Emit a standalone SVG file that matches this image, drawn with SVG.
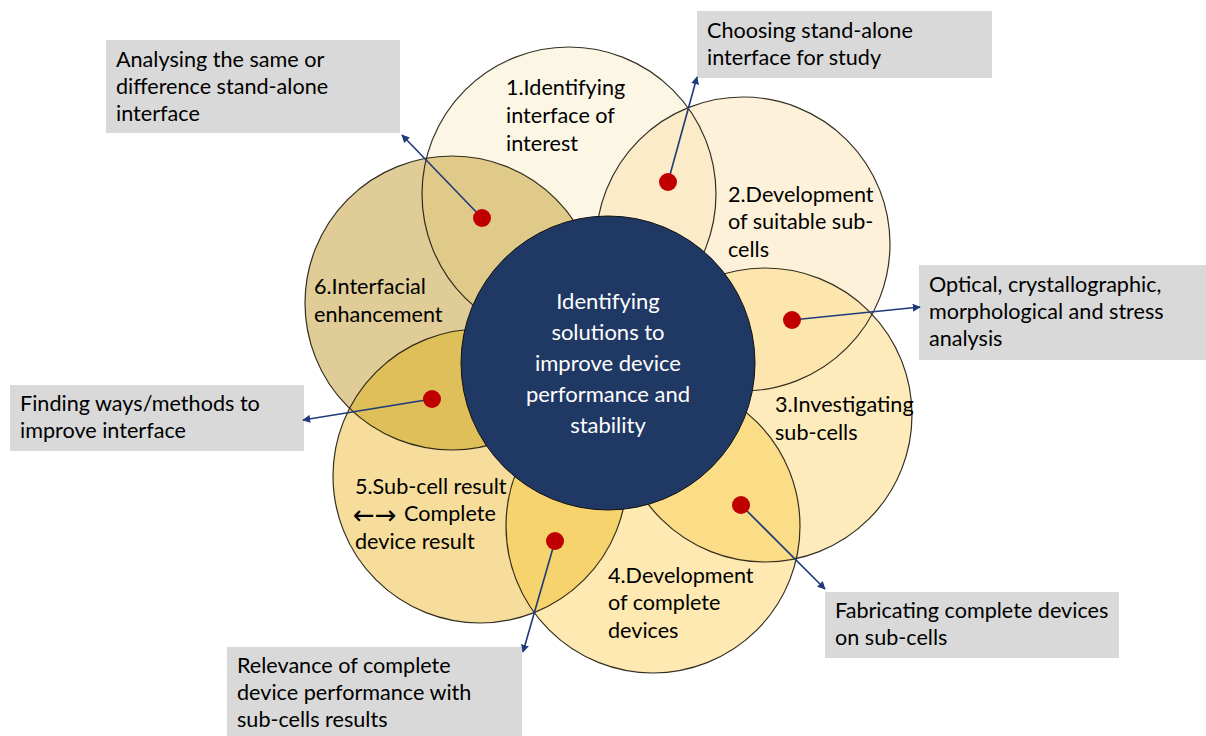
<svg xmlns="http://www.w3.org/2000/svg" width="1206" height="736" viewBox="0 0 1206 736">
  <style>
    .lbl { font-family: Lato, "Open Sans", "Liberation Sans", sans-serif; font-size: 21.6px; fill: #000; }
    .hub { font-family: Lato, "Open Sans", "Liberation Sans", sans-serif; font-size: 22px; fill: #fff; text-anchor: middle; }
    .arr { font-family: "DejaVu Sans", sans-serif; font-size: 26px; fill: #000; }
    .box { fill: #d9d9d9; }
    .ring { fill: none; stroke: #1e1a10; stroke-width: 1.2; stroke-opacity: 0.9; }
    .dot { fill: #c00000; }
    .link { stroke: #1f3a78; stroke-width: 1.6; fill: none; marker-end: url(#tip); }
  </style>
  <defs>
    <marker id="tip" viewBox="0 0 10 10" refX="9" refY="5" markerWidth="8" markerHeight="8" markerUnits="userSpaceOnUse" orient="auto">
      <path d="M0,0 L10,5 L0,10 z" fill="#1f3a78"/>
    </marker>
    <clipPath id="k1"><circle cx="569" cy="194" r="147"/></clipPath>
    <clipPath id="k2"><circle cx="743" cy="244" r="147"/></clipPath>
    <clipPath id="k3"><circle cx="765" cy="415" r="147"/></clipPath>
    <clipPath id="k4"><circle cx="653" cy="526" r="147"/></clipPath>
    <clipPath id="k5"><circle cx="480" cy="476" r="147"/></clipPath>
    <clipPath id="k6"><circle cx="452" cy="303" r="147"/></clipPath>
  </defs>

  <rect width="1206" height="736" fill="#fff"/>

  <!-- petal fills -->
  <g id="petals">
    <circle id="petal-1" cx="569" cy="194" r="147" fill="#fcf6e5"/>
    <circle id="petal-2" cx="743" cy="244" r="147" fill="#fdf2d9"/>
    <circle id="petal-3" cx="765" cy="415" r="147" fill="#fdebbb"/>
    <circle id="petal-4" cx="653" cy="526" r="147" fill="#fde9b1"/>
    <circle id="petal-5" cx="480" cy="476" r="147" fill="#f6dd9c"/>
    <circle id="petal-6" cx="452" cy="303" r="147" fill="#dfcc97"/>
  </g>

  <!-- lens-shaped overlaps between neighbouring petals -->
  <g id="overlaps">
    <circle cx="743" cy="244" r="147" fill="#fbebc8" clip-path="url(#k1)"/>
    <circle cx="765" cy="415" r="147" fill="#fce6ad" clip-path="url(#k2)"/>
    <circle cx="653" cy="526" r="147" fill="#fbdd88" clip-path="url(#k3)"/>
    <circle cx="480" cy="476" r="147" fill="#f6d36c" clip-path="url(#k4)"/>
    <circle cx="452" cy="303" r="147" fill="#debf5a" clip-path="url(#k5)"/>
    <circle cx="569" cy="194" r="147" fill="#e0ca89" clip-path="url(#k6)"/>
  </g>

  <!-- petal outlines -->
  <g id="outlines">
    <circle class="ring" cx="569" cy="194" r="147"/>
    <circle class="ring" cx="743" cy="244" r="147"/>
    <circle class="ring" cx="765" cy="415" r="147"/>
    <circle class="ring" cx="653" cy="526" r="147"/>
    <circle class="ring" cx="480" cy="476" r="147"/>
    <circle class="ring" cx="452" cy="303" r="147"/>
  </g>

  <!-- petal labels -->
  <g id="node-1">
    <text class="lbl" x="506" y="95">1.Identifying</text>
    <text class="lbl" x="506" y="123">interface of</text>
    <text class="lbl" x="506" y="151">interest</text>
  </g>
  <g id="node-2">
    <text class="lbl" x="728" y="202">2.Development</text>
    <text class="lbl" x="728" y="229">of suitable sub-</text>
    <text class="lbl" x="728" y="257">cells</text>
  </g>
  <g id="node-3">
    <text class="lbl" x="775" y="412">3.Investigating</text>
    <text class="lbl" x="775" y="440">sub-cells</text>
  </g>
  <g id="node-4">
    <text class="lbl" x="608" y="583">4.Development</text>
    <text class="lbl" x="608" y="610">of complete</text>
    <text class="lbl" x="608" y="638">devices</text>
  </g>
  <g id="node-5">
    <text class="lbl" x="355" y="494">5.Sub-cell result</text>
    <text class="arr" x="353" y="524">←→</text>
    <text class="lbl" x="404" y="521">Complete</text>
    <text class="lbl" x="355" y="549">device result</text>
  </g>
  <g id="node-6">
    <text class="lbl" x="314" y="294">6.Interfacial</text>
    <text class="lbl" x="314" y="322">enhancement</text>
  </g>

  <!-- central hub -->
  <g id="hub">
    <circle cx="608" cy="363" r="147" fill="#203864" stroke="#111" stroke-width="1"/>
    <text class="hub" x="608" y="309">Identifying</text>
    <text class="hub" x="608" y="340">solutions to</text>
    <text class="hub" x="608" y="371">improve device</text>
    <text class="hub" x="608" y="402">performance and</text>
    <text class="hub" x="608" y="433">stability</text>
  </g>

  <!-- callout boxes -->
  <g id="note-analysing">
    <rect class="box" x="106" y="40" width="294" height="93"/>
    <text class="lbl" x="116" y="67">Analysing the same or</text>
    <text class="lbl" x="116" y="94">difference stand-alone</text>
    <text class="lbl" x="116" y="121">interface</text>
  </g>
  <g id="note-choosing">
    <rect class="box" x="697" y="11" width="295" height="67"/>
    <text class="lbl" x="707" y="38">Choosing stand-alone</text>
    <text class="lbl" x="707" y="65">interface for study</text>
  </g>
  <g id="note-optical">
    <rect class="box" x="919" y="265" width="287" height="95"/>
    <text class="lbl" x="929" y="292">Optical, crystallographic,</text>
    <text class="lbl" x="929" y="319">morphological and stress</text>
    <text class="lbl" x="929" y="346">analysis</text>
  </g>
  <g id="note-finding">
    <rect class="box" x="10" y="385" width="294" height="66"/>
    <text class="lbl" x="20" y="411">Finding ways/methods to</text>
    <text class="lbl" x="20" y="438">improve interface</text>
  </g>
  <g id="note-fabricating">
    <rect class="box" x="825" y="592" width="294" height="66"/>
    <text class="lbl" x="835" y="618">Fabricating complete devices</text>
    <text class="lbl" x="835" y="645">on sub-cells</text>
  </g>
  <g id="note-relevance">
    <rect class="box" x="227" y="647" width="295" height="89"/>
    <text class="lbl" x="237" y="673">Relevance of complete</text>
    <text class="lbl" x="237" y="700">device performance with</text>
    <text class="lbl" x="237" y="727">sub-cells results</text>
  </g>

  <!-- connectors from overlap markers to callouts -->
  <g id="connectors">
    <line class="link" x1="482" y1="218" x2="402" y2="135"/>
    <line class="link" x1="668" y1="182" x2="697" y2="77"/>
    <line class="link" x1="792" y1="320" x2="920" y2="307"/>
    <line class="link" x1="741" y1="505" x2="825" y2="589"/>
    <line class="link" x1="555" y1="541" x2="523" y2="652"/>
    <line class="link" x1="432" y1="399" x2="303" y2="420"/>
    <circle class="dot" cx="482" cy="218" r="9"/>
    <circle class="dot" cx="668" cy="182" r="9"/>
    <circle class="dot" cx="792" cy="320" r="9"/>
    <circle class="dot" cx="741" cy="505" r="9"/>
    <circle class="dot" cx="555" cy="541" r="9"/>
    <circle class="dot" cx="432" cy="399" r="9"/>
  </g>
</svg>
